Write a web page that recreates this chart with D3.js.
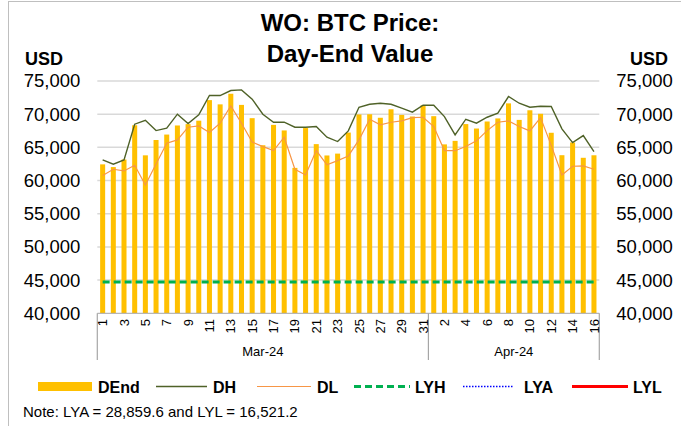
<!DOCTYPE html>
<html>
<head>
<meta charset="utf-8">
<script src="https://cdn.jsdelivr.net/npm/d3@7/dist/d3.min.js"></script>
<style>
  html, body { margin: 0; padding: 0; background: #fff; }
  svg { display: block; font-family: Arial, "Liberation Sans", sans-serif; }
</style>
</head>
<body>
<svg id="chart" width="681" height="426"></svg>
<script>
// ---------- data ----------
const marDays = d3.range(1, 32).map(String);
const aprDays = d3.range(1, 17).map(String);
const months = ["Mar-24", "Apr-24"];

const dEnd = [62440, 62030, 63170, 68330, 63800, 66110, 66930, 68300, 68500, 69020,
  72120, 71480, 73080, 71400, 69400, 65320, 68390, 67550, 61910, 67910,
  65490, 63780, 64060, 67230, 69960, 69990, 69460, 70740, 69890, 69650, 71330,
  69700, 65450, 65980, 68510, 67840, 68900, 69360, 71630, 69140, 70590,
  70060, 67200, 63820, 65740, 63430, 63810];

const dHigh = [63110, 62460, 63110, 68490, 69090, 67530, 67890, 70000, 68590, 69900,
  72810, 72810, 73560, 73660, 72260, 70000, 68790, 68790, 68040, 68040,
  68140, 66530, 65880, 67480, 71050, 71500, 71650, 71500, 70900, 70300, 71350,
  71350, 69640, 66880, 69240, 68640, 69540, 70150, 72660, 71650, 71050,
  71200, 71150, 67790, 65720, 66780, 64370];

const dLow = [60750, 61700, 61450, 62310, 59340, 62510, 65620, 66130, 68040, 68240,
  67230, 68640, 71250, 68640, 65800, 65120, 64520, 66530, 61700, 60850,
  64520, 62360, 63010, 63710, 66130, 69240, 68390, 68790, 68990, 69490, 69540,
  68140, 64520, 64500, 65120, 65980, 67530, 68790, 68990, 68140, 67480,
  69490, 65300, 60850, 62160, 62210, 61700];

const LYH = 44705;
const LYA = 28859.6;
const LYL = 16521.2;

const yTicks = [40000, 45000, 50000, 55000, 60000, 65000, 70000, 75000];

// categories
const cats = marDays.map(d => "Mar-" + d).concat(aprDays.map(d => "Apr-" + d));
const catLabel = marDays.concat(aprDays);
const monthCounts = [marDays.length, aprDays.length];

// ---------- layout ----------
const svg = d3.select("#chart");
const L = 97.3, R = 599.3, T = 81, B = 313.3;

const x = d3.scaleBand().domain(cats).range([L, R]).paddingInner(0.53).paddingOuter(0.265);
const cx = c => x(c) + x.bandwidth() / 2;
const y = d3.scaleLinear().domain([40000, 75000]).range([B, T]);

// frame
svg.append("rect").attr("x", 8.5).attr("y", 1.5).attr("width", 700).attr("height", 500)
  .attr("fill", "none").attr("stroke", "#bfbfbf").attr("stroke-width", 1);

// title
svg.append("text").attr("x", 350).attr("y", 31).attr("text-anchor", "middle")
  .attr("font-size", 24).attr("font-weight", "bold").text("WO: BTC Price:");
svg.append("text").attr("x", 350).attr("y", 62).attr("text-anchor", "middle")
  .attr("font-size", 24).attr("font-weight", "bold").text("Day-End Value");

// unit labels
svg.append("text").attr("x", 25).attr("y", 65).attr("font-size", 18).attr("font-weight", "bold").text("USD");
svg.append("text").attr("x", 630).attr("y", 65).attr("font-size", 18).attr("font-weight", "bold").text("USD");

// gridlines
svg.append("g").selectAll("line").data(yTicks.filter(t => t > 40000)).join("line")
  .attr("x1", L).attr("x2", R).attr("y1", d => y(d)).attr("y2", d => y(d))
  .attr("stroke", "#d9d9d9").attr("stroke-width", 1.5);

// y axes
const fmt = d3.format(",");
const yl = svg.append("g").attr("transform", `translate(${L - 17},0)`)
  .call(d3.axisLeft(y).tickValues(yTicks).tickFormat(fmt).tickSize(0).tickPadding(0));
yl.select(".domain").remove();
yl.selectAll("text").attr("font-size", 18.5).attr("fill", "#000").attr("font-family", "Arial, 'Liberation Sans', sans-serif");
const yr = svg.append("g").attr("transform", `translate(${R + 17},0)`)
  .call(d3.axisRight(y).tickValues(yTicks).tickFormat(fmt).tickSize(0).tickPadding(0));
yr.select(".domain").remove();
yr.selectAll("text").attr("font-size", 18.5).attr("fill", "#000").attr("font-family", "Arial, 'Liberation Sans', sans-serif");

// clip for plot
svg.append("clipPath").attr("id", "plotclip").append("rect")
  .attr("x", L).attr("y", T - 5).attr("width", R - L).attr("height", B - T + 5);

const plot = svg.append("g").attr("clip-path", "url(#plotclip)");

// bars
plot.append("g").selectAll("rect").data(cats).join("rect")
  .attr("x", d => x(d)).attr("width", x.bandwidth())
  .attr("y", (d, i) => y(dEnd[i])).attr("height", (d, i) => B - y(dEnd[i]))
  .attr("fill", "#FFC000");

// reference lines
const refLine = (v, color, w, dash) => {
  plot.append("line").attr("x1", cx(cats[0])).attr("x2", cx(cats[cats.length - 1]))
    .attr("y1", y(v)).attr("y2", y(v)).attr("stroke", color).attr("stroke-width", w)
    .attr("stroke-dasharray", dash);
};
refLine(LYH, "#00B050", 3, "7,4");
refLine(LYA, "#0000FF", 1.5, "1.5,1.5");
refLine(LYL, "#FF0000", 3, null);

// DH / DL lines
const line = d3.line().x((d, i) => cx(cats[i])).y(d => y(d));
plot.append("path").datum(dHigh).attr("d", line).attr("fill", "none")
  .attr("stroke", "#4F6228").attr("stroke-width", 1.4);
plot.append("path").datum(dLow).attr("d", line).attr("fill", "none")
  .attr("stroke", "#F79646").attr("stroke-width", 1.2);

// x axis line
svg.append("line").attr("x1", L).attr("x2", R).attr("y1", B).attr("y2", B)
  .attr("stroke", "#a6a6a6").attr("stroke-width", 1);

// month group boxes
let acc = 0;
const bounds = [L];
monthCounts.forEach(n => { acc += n; bounds.push(x(cats[acc - 1]) + x.bandwidth() + x.step() * x.paddingInner() / 2); });
bounds[bounds.length - 1] = R;
svg.append("g").selectAll("line").data(bounds).join("line")
  .attr("x1", d => d).attr("x2", d => d).attr("y1", B).attr("y2", 360)
  .attr("stroke", "#a6a6a6").attr("stroke-width", 1.2);

// day tick labels (every 2nd category)
svg.append("g").selectAll("text").data(cats.filter((d, i) => i % 2 === 0)).join("text")
  .attr("transform", d => `translate(${cx(d)},319) rotate(-90)`)
  .attr("text-anchor", "end").attr("dy", "0.35em").attr("font-size", 13)
  .text(d => catLabel[cats.indexOf(d)]);

// month labels
svg.append("g").selectAll("text").data(months).join("text")
  .attr("x", (d, i) => (bounds[i] + bounds[i + 1]) / 2).attr("y", 356)
  .attr("text-anchor", "middle").attr("font-size", 13).text(d => d);

// legend
const lg = svg.append("g");
const ly = 386.5;
lg.append("rect").attr("x", 38).attr("y", ly - 4.5).attr("width", 54).attr("height", 9).attr("fill", "#FFC000");
const legLines = [
  { x1: 156, x2: 207, color: "#4F6228", w: 1.4, dash: null },
  { x1: 257, x2: 311, color: "#F79646", w: 1.2, dash: null },
  { x1: 354, x2: 410, color: "#00B050", w: 3, dash: "7,4" },
  { x1: 463, x2: 513, color: "#0000FF", w: 1.5, dash: "1.5,1.5" },
  { x1: 572, x2: 628, color: "#FF0000", w: 3, dash: null }
];
lg.selectAll("line").data(legLines).join("line")
  .attr("x1", d => d.x1).attr("x2", d => d.x2).attr("y1", ly).attr("y2", ly)
  .attr("stroke", d => d.color).attr("stroke-width", d => d.w).attr("stroke-dasharray", d => d.dash);
const legText = [
  { x: 98, t: "DEnd" }, { x: 213, t: "DH" }, { x: 317, t: "DL" },
  { x: 415, t: "LYH" }, { x: 524, t: "LYA" }, { x: 633, t: "LYL" }
];
lg.selectAll("text").data(legText).join("text")
  .attr("x", d => d.x).attr("y", ly + 6).attr("font-size", 16).attr("font-weight", "bold").text(d => d.t);

// note
svg.append("text").attr("x", 23).attr("y", 417).attr("font-size", 15)
  .text("Note: LYA = " + d3.format(",.1f")(LYA) + " and LYL = " + d3.format(",.1f")(LYL));
</script>
</body>
</html>
